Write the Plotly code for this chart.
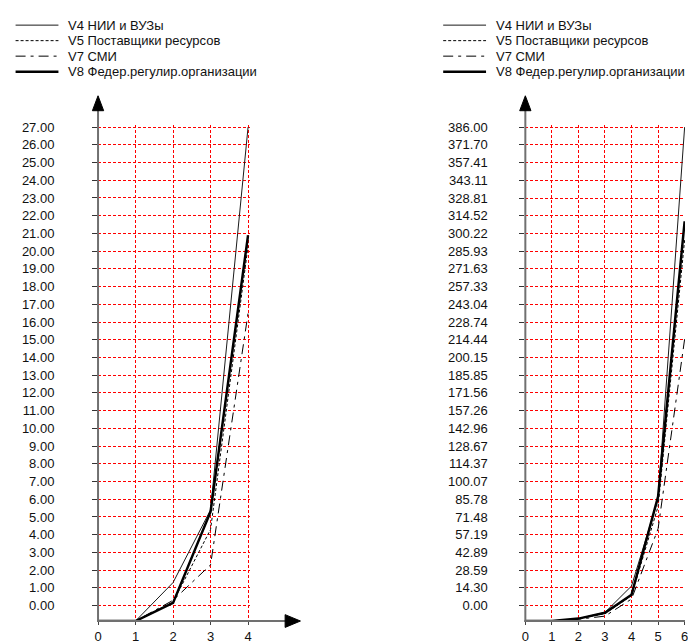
import plotly.graph_objects as go

# ---------------- data ----------------
series_names = ["V4 НИИ и ВУЗы", "V5 Поставщики ресурсов", "V7 СМИ", "V8 Федер.регулир.организации"]

steps_left = [0, 1, 2, 3, 4]
left_v4 = [-0.87, -0.87, 1.3, 5.4, 27.0]
left_v5 = [-0.87, -0.87, 0.2, 4.3, 20.3]
left_v7 = [-0.87, -0.87, 0.3, 2.3, 16.5]
left_v8 = [-0.87, -0.87, 0.15, 5.3, 20.9]

steps_right = [0, 1, 2, 3, 4, 5, 6]
right_v4 = [-12.4, -12.4, -10.5, -5.5, 15.8, 86.0, 386.0]
right_v5 = [-12.4, -12.4, -10.5, -6.5, 8.0, 80.0, 295.0]
right_v7 = [-12.4, -12.4, -11.0, -8.5, 5.3, 62.0, 215.0]
right_v8 = [-12.4, -12.4, -10.5, -5.8, 8.7, 88.0, 310.0]

left_ytick_labels = ["0.00", "1.00", "2.00", "3.00", "4.00", "5.00", "6.00", "7.00", "8.00",
                     "9.00", "10.00", "11.00", "12.00", "13.00", "14.00", "15.00", "16.00",
                     "17.00", "18.00", "19.00", "20.00", "21.00", "22.00", "23.00", "24.00",
                     "25.00", "26.00", "27.00"]
right_ytick_labels = ["0.00", "14.30", "28.59", "42.89", "57.19", "71.48", "85.78", "100.07",
                      "114.37", "128.67", "142.96", "157.26", "171.56", "185.85", "200.15",
                      "214.44", "228.74", "243.04", "257.33", "271.63", "285.93", "300.22",
                      "314.52", "328.81", "343.11", "357.41", "371.70", "386.00"]
left_xticks = [0, 1, 2, 3, 4]
right_xticks = [0, 1, 2, 3, 4, 5, 6]

# ---------------- styles ----------------
W, H = 688, 644
FONT = "Liberation Sans, Arial, sans-serif"
styles = [
    dict(color="#1a1a1a", width=1, dash="solid"),
    dict(color="#000000", width=1, dash="3px,2px"),
    dict(color="#000000", width=1, dash="10px,5px,3px,5px"),
    dict(color="#000000", width=2.5, dash="solid"),
]

def px(x):
    return x / W

def py(y):
    return 1 - y / H

fig = go.Figure()

left_series = [left_v4, left_v5, left_v7, left_v8]
right_series = [right_v4, right_v5, right_v7, right_v8]
for name, vals, st in zip(series_names, left_series, styles):
    fig.add_trace(go.Scatter(x=steps_left, y=vals, mode="lines", name=name, line=st,
                             xaxis="x", yaxis="y", showlegend=False))
for name, vals, st in zip(series_names, right_series, styles):
    fig.add_trace(go.Scatter(x=steps_right, y=vals, mode="lines", name=name, line=st,
                             xaxis="x2", yaxis="y2", showlegend=False))

axis_bottom = 626.7
grid_top = 121.6
common_x = dict(showgrid=True, gridcolor="#ff0000", griddash="3px,2px", gridwidth=1,
                zeroline=False, showline=False, ticks="outside", ticklen=3, tickcolor="#444",
                tickfont=dict(family=FONT, size=13, color="#111"), ticklabeloverflow="allow",
                fixedrange=True)
common_y = dict(showgrid=True, gridcolor="#ff0000", griddash="3px,2px", gridwidth=1,
                zeroline=False, showline=False, ticks="outside", ticklen=5, tickcolor="#333",
                tickfont=dict(family=FONT, size=13, color="#111"), ticklabeloverflow="allow",
                fixedrange=True)

fig.update_layout(
    width=W, height=H,
    margin=dict(l=0, r=0, t=0, b=0),
    paper_bgcolor="white", plot_bgcolor="white",
    xaxis=dict(common_x, domain=[px(95), px(248.1)], range=[0, 4.04], anchor="y",
               tickvals=left_xticks, ticktext=[str(v) for v in left_xticks]),
    yaxis=dict(common_y, domain=[py(axis_bottom), py(grid_top)], range=[-0.87, 27.1], anchor="x",
               tickvals=[float(t) for t in left_ytick_labels], ticktext=left_ytick_labels,
               ticklabelstandoff=35),
    xaxis2=dict(common_x, domain=[px(526.7), 1.0], range=[0, 6.014], anchor="y2",
                tickvals=right_xticks, ticktext=[str(v) for v in right_xticks]),
    yaxis2=dict(common_y, domain=[py(axis_bottom), py(grid_top)], range=[-12.44, 387.43], anchor="x2",
                tickvals=[float(t) for t in right_ytick_labels], ticktext=right_ytick_labels,
                ticklabelstandoff=29),
)

shapes = []
annotations = []

def add_axes(x0, x_end, arrow_x):
    # y axis line and arrow
    shapes.append(dict(type="line", xref="paper", yref="paper", x0=px(x0), x1=px(x0),
                       y0=py(axis_bottom + 1), y1=py(104), line=dict(color="#707070", width=2)))
    shapes.append(dict(type="path", xref="paper", yref="paper",
                       path=f"M {px(x0)} {py(91.5)} L {px(x0 - 5.7)} {py(106.7)} L {px(x0 + 5.7)} {py(106.7)} Z",
                       fillcolor="black", line=dict(color="black", width=1)))
    # x axis line and arrow
    shapes.append(dict(type="line", xref="paper", yref="paper", x0=px(x0 - 1), x1=px(x_end),
                       y0=py(axis_bottom), y1=py(axis_bottom), line=dict(color="#707070", width=2)))
    if arrow_x is not None:
        shapes.append(dict(type="path", xref="paper", yref="paper",
                           path=f"M {px(arrow_x)} {py(axis_bottom)} L {px(arrow_x - 15.5)} {py(axis_bottom - 6.5)} L {px(arrow_x - 15.5)} {py(axis_bottom + 6.5)} Z",
                           fillcolor="black", line=dict(color="black", width=1)))

add_axes(95, 285, 299.5)
add_axes(526.7, 688, None)

def add_legend(x_off):
    for i, (name, st) in enumerate(zip(series_names, styles)):
        yc = 19.5 + i * 15.8
        shapes.append(dict(type="line", xref="paper", yref="paper",
                           x0=px(x_off + 11.7), x1=px(x_off + 55), y0=py(yc), y1=py(yc),
                           line=dict(color=st["color"], width=st["width"], dash=st["dash"])))
        annotations.append(dict(xref="paper", yref="paper", x=px(x_off + 63), y=py(yc),
                                xanchor="left", yanchor="middle", showarrow=False, text=name,
                                font=dict(family=FONT, size=13, color="#111")))

add_legend(0)
add_legend(432)

fig.update_layout(shapes=shapes, annotations=annotations)
fig.write_html(
    "out.html",
    config={"displayModeBar": False, "staticPlot": True},
    post_script=("document.body.style.margin='0';document.body.style.padding='0';"
                 "document.documentElement.style.overflow='hidden';"
                 "document.body.style.overflow='hidden';"),
)
